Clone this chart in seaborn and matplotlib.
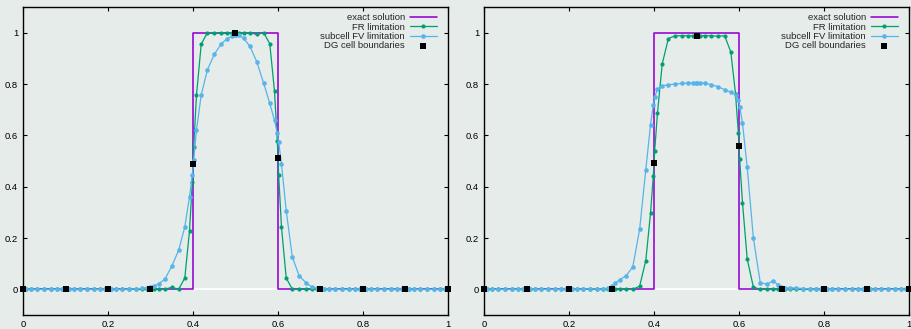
import numpy as np
import pandas as pd
import matplotlib
matplotlib.use("Agg")
import matplotlib.pyplot as plt
import seaborn as sns

# Gauss-Legendre nodes (9 per cell) on the reference interval [0, 1]
node_fractions = [0.0159199, 0.0819844, 0.1933143, 0.3378733, 0.5,
                  0.6621267, 0.8066857, 0.9180156, 0.9840801]
# DG cell boundaries
cell_edges = [0.0, 0.1, 0.2, 0.3, 0.4, 0.5, 0.6, 0.7, 0.8, 0.9, 1.0]
cell_width = 0.1

# exact solution (square pulse)
exact_x = [0.0, 0.4, 0.4, 0.6, 0.6, 1.0]
exact_y = [0.0, 0.0, 1.0, 1.0, 0.0, 0.0]

Z9 = [0.0] * 9

# ---- left panel ----
fr_left = (Z9 + Z9 + Z9 +
           [0.0, 0.0, 0.0, 0.0, 0.008, 0.0, 0.044, 0.228, 0.419] +
           [0.555, 0.757, 0.955, 1.0, 1.0, 1.0, 1.0, 1.0, 1.0] +
           [1.0, 1.0, 1.0, 1.0, 0.993, 1.0, 0.957, 0.771, 0.578] +
           [0.445, 0.242, 0.044, 0.0, 0.0, 0.0, 0.0, 0.0, 0.0] +
           Z9 + Z9 + Z9)
fv_left = (Z9 + Z9 +
           [0.0, 0.0, 0.0, 0.0, 0.001, 0.002, 0.004, 0.007, 0.009] +
           [0.010, 0.012, 0.022, 0.039, 0.090, 0.152, 0.243, 0.361, 0.446] +
           [0.502, 0.621, 0.757, 0.855, 0.915, 0.956, 0.977, 0.986, 0.990] +
           [0.990, 0.990, 0.978, 0.947, 0.887, 0.803, 0.725, 0.658, 0.608] +
           [0.574, 0.488, 0.306, 0.125, 0.052, 0.025, 0.008, 0.005, 0.004] +
           [0.003, 0.002, 0.001, 0.0, 0.0, 0.0, 0.0, 0.0, 0.0] +
           Z9 + Z9)
dg_left = [0.0, 0.0, 0.0, 0.0, 0.487, 1.0, 0.511, 0.0, 0.0, 0.0, 0.0]

# ---- right panel ----
fr_right = (Z9 + Z9 + Z9 +
            [0.0, 0.0, 0.0, 0.0, 0.0, 0.012, 0.112, 0.296, 0.443] +
            [0.540, 0.687, 0.878, 0.977, 0.988, 0.988, 0.988, 0.988, 0.988] +
            [0.988, 0.988, 0.988, 0.988, 0.986, 0.988, 0.925, 0.762, 0.611] +
            [0.507, 0.337, 0.118, 0.009, 0.0, 0.0, 0.0, 0.0, 0.0] +
            Z9 + Z9 + Z9)
fv_right = (Z9 + Z9 +
            [0.0, 0.0, 0.0, 0.001, 0.002, 0.001, 0.002, 0.004, 0.007] +
            [0.012, 0.023, 0.038, 0.052, 0.087, 0.234, 0.466, 0.641, 0.718] +
            [0.749, 0.780, 0.793, 0.797, 0.800, 0.802, 0.804, 0.805, 0.805] +
            [0.805, 0.805, 0.803, 0.798, 0.790, 0.778, 0.768, 0.758, 0.738] +
            [0.712, 0.648, 0.475, 0.200, 0.026, 0.020, 0.034, 0.017, 0.008] +
            [0.004, 0.005, 0.006, 0.005, 0.003, 0.002, 0.001, 0.0, 0.0] +
            Z9 + Z9)
dg_right = [0.0, 0.0, 0.0, 0.0, 0.4915, 0.988, 0.559, 0.0, 0.0, 0.0, 0.0]

tick_values = [0.0, 0.2, 0.4, 0.6, 0.8, 1.0]
tick_labels = ["0", "0.2", "0.4", "0.6", "0.8", "1"]

series_labels = ["exact solution", "FR limitation", "subcell FV limitation",
                 "DG cell boundaries"]

# solution points of all cells
x_nodes = np.array([e + cell_width * f for e in cell_edges[:-1] for f in node_fractions])

BG = "#e5ecea"
C_EXACT = "#9400d3"
C_FR = "#009e73"
C_FV = "#56b4e9"

sns.set_style("ticks")
plt.rcParams["font.family"] = ["Liberation Sans", "DejaVu Sans"]
plt.rcParams["font.size"] = 6.8

fig = plt.figure(figsize=(9.11, 3.29), dpi=100, facecolor=BG)
ax_l = fig.add_axes([23 / 911, 1 - 315 / 329, 425 / 911, 308 / 329])
ax_r = fig.add_axes([484 / 911, 1 - 315 / 329, 425 / 911, 308 / 329])


def draw_panel(ax, fr, fv, dg):
    ax.set_facecolor(BG)
    ax.axhline(0.0, color="white", lw=1.3, zorder=0.5)
    df = pd.DataFrame({"x": x_nodes, "fr": fr, "fv": fv})
    sns.lineplot(x=exact_x, y=exact_y, ax=ax, color=C_EXACT, lw=1.15,
                 estimator=None, sort=False, label=series_labels[0], zorder=2)
    sns.lineplot(data=df, x="x", y="fr", ax=ax, color=C_FR, lw=0.9,
                 marker="o", markersize=3.0, markeredgewidth=0,
                 estimator=None, sort=False, label=series_labels[1], zorder=3)
    sns.lineplot(data=df, x="x", y="fv", ax=ax, color=C_FV, lw=0.9,
                 marker="o", markersize=3.3, markeredgewidth=0,
                 estimator=None, sort=False, label=series_labels[2], zorder=4)
    sns.scatterplot(x=cell_edges, y=dg, ax=ax, marker="s", s=14, color="black",
                    linewidth=0, label=series_labels[3], zorder=5, clip_on=False)

    ax.set_xlim(0, 1)
    ax.set_ylim(-0.1, 1.1)
    ax.set_xticks(tick_values)
    ax.set_xticklabels(tick_labels)
    ax.set_yticks(tick_values)
    ax.set_yticklabels(tick_labels)
    ax.set_xlabel("")
    ax.set_ylabel("")
    ax.tick_params(direction="in", length=3.2, width=0.8, top=True, right=True,
                   labelsize=6.8, colors="black", pad=3.5)
    for s in ax.spines.values():
        s.set_visible(True)
        s.set_color("black")
        s.set_linewidth(1.0)

    h, l = ax.get_legend_handles_labels()
    leg = ax.legend(h, l, loc="upper right", bbox_to_anchor=(0.974, 0.979),
                    frameon=False, markerfirst=False, fontsize=6.8,
                    handlelength=2.9, handletextpad=0.5, labelspacing=0.03,
                    borderpad=0, borderaxespad=0)
    return leg


draw_panel(ax_l, fr_left, fv_left, dg_left)
draw_panel(ax_r, fr_right, fv_right, dg_right)

fig.savefig("out.png", dpi=100, facecolor=BG)
